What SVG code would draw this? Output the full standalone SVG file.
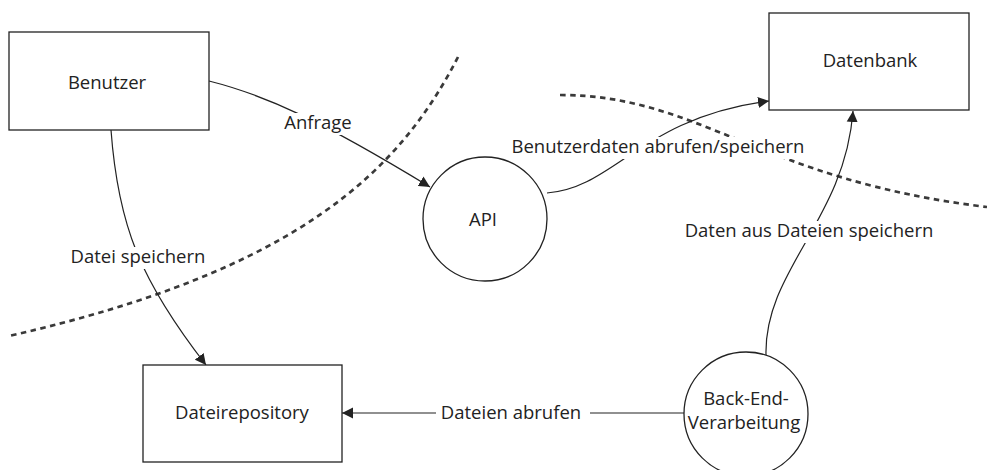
<svg xmlns="http://www.w3.org/2000/svg" width="987" height="470" viewBox="0 0 987 470">
<style>
.box{fill:#fff;stroke:#222;stroke-width:1.3}
.t{font-family:"Open Sans","Noto Sans",sans-serif;font-size:18.5px;fill:#222;text-anchor:middle}
.c{fill:none;stroke:#222;stroke-width:1.2}
.b{fill:none;stroke:#3a3a3a;stroke-width:2.7;stroke-dasharray:5.5 4.5}
.bg{fill:#fff}
</style>
<defs>
<marker id="ah" viewBox="0 0 10 10" refX="10" refY="5" markerWidth="11" markerHeight="12" markerUnits="userSpaceOnUse" orient="auto">
<path d="M0,0 L10,5 L0,10 z" fill="#222"/>
</marker>
</defs>
<rect width="987" height="470" fill="#fff"/>
<g id="boundaries">
<path class="b" d="M458,57 C400,170 300,270 9,336"/>
<path class="b" d="M560,95 C700,95 760,180 987,207"/>
</g>
<g id="connectors">
<path class="c" d="M209,81 C265,95 320,120 430,187" marker-end="url(#ah)"/>
<path class="c" d="M111,130 C118,225 140,280 206,365" marker-end="url(#ah)"/>
<path class="c" d="M547,193 C615,188 640,118 769,101" marker-end="url(#ah)"/>
<path class="c" d="M766,355 C764,270 845,220 853,111" marker-end="url(#ah)"/>
<path class="c" d="M684,413 L342,413" marker-end="url(#ah)"/>
<rect class="bg" x="280" y="113" width="76" height="22"/>
<text class="t" x="318" y="129">Anfrage</text>
<rect class="bg" x="66" y="247" width="145" height="22"/>
<text class="t" x="138" y="263">Datei speichern</text>
<rect class="bg" x="506" y="137" width="304" height="22"/>
<text class="t" x="658" y="153">Benutzerdaten abrufen/speichern</text>
<rect class="bg" x="679" y="221" width="260" height="22"/>
<text class="t" x="809" y="237">Daten aus Dateien speichern</text>
<rect class="bg" x="436" y="403" width="154" height="22"/>
<text class="t" x="511" y="419">Dateien abrufen</text>
</g>
<g id="benutzer">
<rect class="box" x="9" y="32" width="200" height="98"/>
<text class="t" x="107" y="89">Benutzer</text>
</g>
<g id="datenbank">
<rect class="box" x="769" y="13" width="200" height="97"/>
<text class="t" x="870" y="67">Datenbank</text>
</g>
<g id="dateirepository">
<rect class="box" x="143" y="365" width="199" height="97"/>
<text class="t" x="242" y="419">Dateirepository</text>
</g>
<g id="api">
<circle class="box" cx="485" cy="219" r="62"/>
<text class="t" x="483" y="226">API</text>
</g>
<g id="backend">
<circle class="box" cx="746" cy="414" r="62"/>
<text class="t" x="746" y="405">Back-End-</text>
<text class="t" x="744" y="429">Verarbeitung</text>
</g>
</svg>
